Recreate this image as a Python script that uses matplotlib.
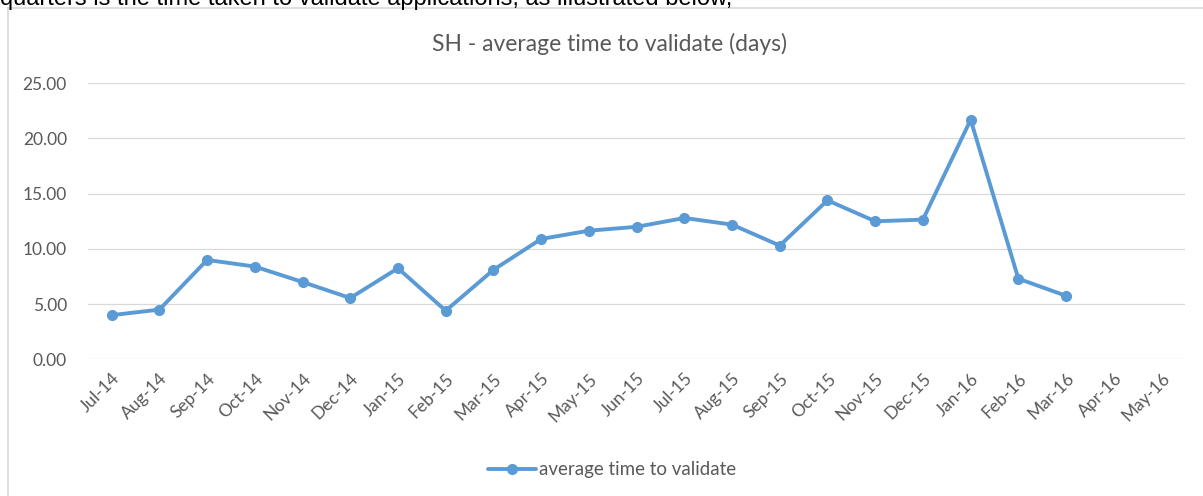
import matplotlib.pyplot as plt
from matplotlib.lines import Line2D

# 데이터
months = ['Jul-14', 'Aug-14', 'Sep-14', 'Oct-14', 'Nov-14', 'Dec-14',
          'Jan-15', 'Feb-15', 'Mar-15', 'Apr-15', 'May-15', 'Jun-15',
          'Jul-15', 'Aug-15', 'Sep-15', 'Oct-15', 'Nov-15', 'Dec-15',
          'Jan-16', 'Feb-16', 'Mar-16', 'Apr-16', 'May-16']
avg_days = [4.0, 4.5, 9.0, 8.4, 7.0, 5.55, 8.25, 4.4, 8.1, 10.9, 11.65, 12.0,
            12.8, 12.2, 10.3, 14.4, 12.5, 12.65, 21.7, 7.3, 5.75]
y_ticks = [0, 5, 10, 15, 20, 25]

grey = '#595959'
blue = '#5B9BD5'
font = ['Lato', 'DejaVu Sans']

fig = plt.figure(figsize=(12.03, 4.96), dpi=100)
fig.patch.set_facecolor('white')

# 위쪽 잘린 본문 텍스트 (원본 스크린샷에서도 위가 잘려 있음)
fig.text(0.0, 1 - 5.5 / 496, 'quarters is the time taken to validate applications, as illustrated below,',
         fontsize=17, family=['Liberation Sans', 'DejaVu Sans'], color='black',
         ha='left', va='baseline')

# 차트 테두리
frame_col = '#D9D9D9'
fig.add_artist(Line2D([8 / 1203, 1.0], [1 - 8 / 496, 1 - 8 / 496],
                      transform=fig.transFigure, color=frame_col, lw=1.2))
fig.add_artist(Line2D([8 / 1203, 8 / 1203], [0.0, 1 - 8 / 496],
                      transform=fig.transFigure, color=frame_col, lw=1.2))

ax = fig.add_axes([87.8 / 1203, 1 - 359.3 / 496, (1185.4 - 87.8) / 1203, 276 / 496])
x = list(range(len(avg_days)))
ax.plot(x, avg_days, color=blue, lw=2.8, marker='o', markersize=7,
        label='average time to validate', solid_capstyle='round', solid_joinstyle='round')

ax.set_xlim(-0.5, len(months) - 0.5)
ax.set_ylim(0, 25)
ax.set_yticks(y_ticks)
ax.set_yticklabels(['%.2f' % v for v in y_ticks], family=font, fontsize=12.5, color=grey)
ax.set_xticks(range(len(months)))
ax.set_xticklabels(months, rotation=45, ha='right', va='top', rotation_mode='anchor',
                   family=font, fontsize=12.5, color=grey)
ax.tick_params(axis='y', length=0, pad=15)
ax.tick_params(axis='x', length=0, pad=8)
ax.grid(axis='y', color='#D9D9D9', lw=0.9)
ax.set_axisbelow(True)
for s in ax.spines.values():
    s.set_visible(False)

fig.text(609 / 1203, 1 - 44 / 496, 'SH - average time to validate (days)',
         family=font, fontsize=16.5, color=grey, ha='center', va='center')

fig.legend(loc='center', bbox_to_anchor=(612 / 1203, 1 - 470 / 496), frameon=False,
           prop={'family': font, 'size': 13.5}, labelcolor=grey, handlelength=2.6,
           handletextpad=0.15)

plt.savefig('out.png', dpi=100)
